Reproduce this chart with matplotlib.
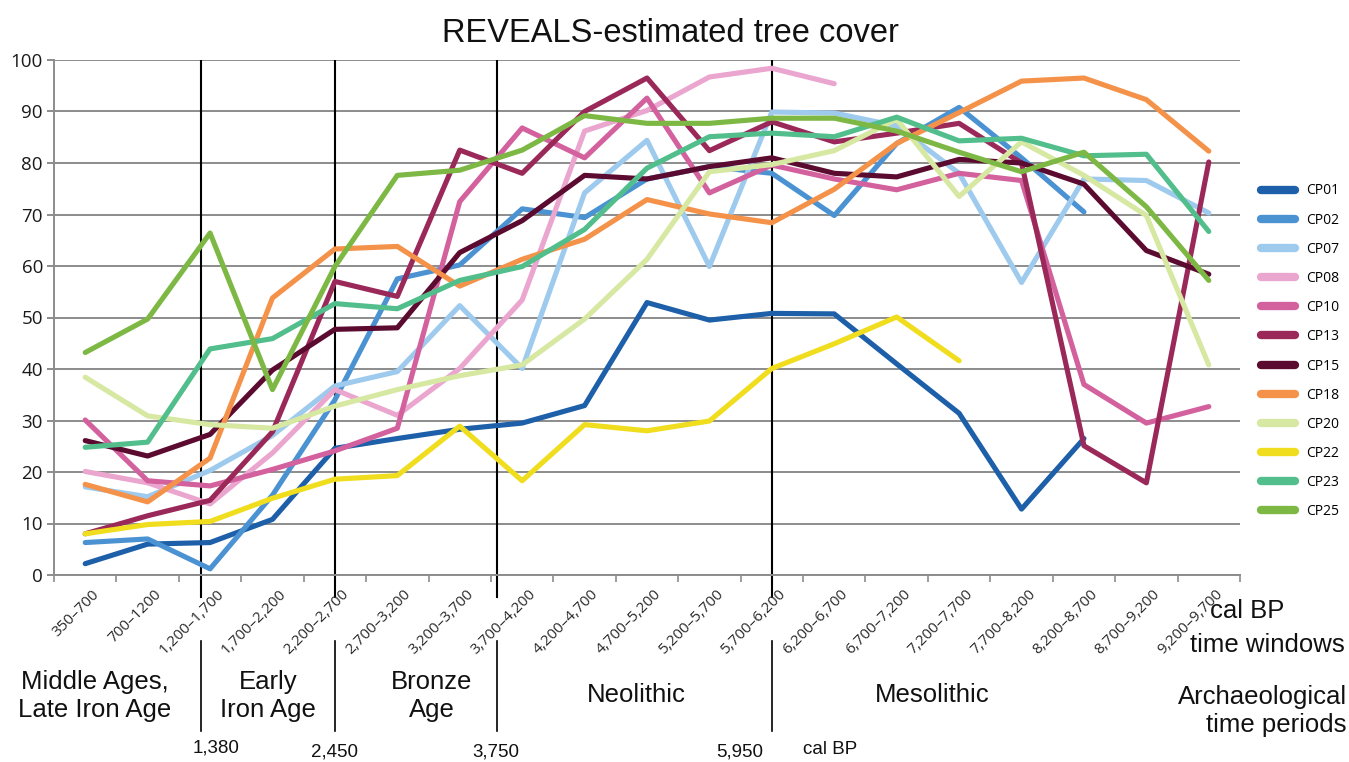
import matplotlib
matplotlib.use("Agg")
import matplotlib.pyplot as plt
import numpy as np
from matplotlib.transforms import blended_transform_factory

categories = ["350–700", "700–1200", "1,200–1,700", "1,700–2,200", "2,200–2,700",
              "2,700–3,200", "3,200–3,700", "3,700–4,200", "4,200–4,700", "4,700–5,200",
              "5,200–5,700", "5,700–6,200", "6,200–6,700", "6,700–7,200", "7,200–7,700",
              "7,700–8,200", "8,200–8,700", "8,700–9,200", "9,200–9,700"]
N = None
cp01 = [2.2, 6.0, 6.3, 10.8, 24.6, 26.5, 28.3, 29.5, 32.9, 52.9, 49.5, 50.8, 50.7, 41.0, 31.4, 12.8, 26.5, N, N]
cp02 = [6.3, 7.0, 1.2, 15.5, 34.0, 57.5, 60.2, 71.1, 69.4, 76.9, 79.3, 78.0, 69.8, 83.8, 90.8, 81.0, 70.5, N, N]
cp07 = [17.1, 15.2, 20.3, 27.1, 36.7, 39.5, 52.3, 40.1, 74.2, 84.4, 59.9, 89.9, 89.7, 87.2, 78.0, 56.8, 76.9, 76.6, 70.3]
cp08 = [20.1, 17.9, 13.8, 23.7, 36.0, 31.0, 40.1, 53.4, 86.2, 90.2, 96.7, 98.4, 95.4, N, N, N, N, N, N]
cp10 = [30.1, 18.3, 17.3, 20.5, 24.1, 28.5, 72.5, 86.8, 81.0, 92.6, 74.2, 79.6, 76.9, 74.8, 78.0, 76.6, 37.0, 29.5, 32.7]
cp13 = [8.0, 11.5, 14.5, 27.8, 57.0, 54.1, 82.5, 78.0, 90.0, 96.5, 82.4, 88.0, 84.1, 85.8, 87.7, 80.0, 25.1, 17.9, 80.2]
cp15 = [26.1, 23.1, 27.3, 39.8, 47.7, 48.0, 62.6, 68.8, 77.6, 76.9, 79.3, 81.0, 78.0, 77.3, 80.7, 80.0, 75.9, 63.0, 58.4]
cp18 = [17.6, 14.2, 22.7, 53.8, 63.3, 63.8, 56.1, 61.3, 65.2, 72.9, 70.1, 68.4, 74.9, 83.8, 89.8, 95.9, 96.5, 92.3, 82.3]
cp20 = [38.4, 30.9, 29.2, 28.5, 32.8, 36.0, 38.7, 40.8, 49.7, 61.3, 78.3, 79.7, 82.4, 88.5, 73.5, 84.1, 77.6, 69.8, 40.8]
cp22 = [8.0, 9.8, 10.4, 14.9, 18.6, 19.3, 28.9, 18.3, 29.2, 28.0, 29.9, 40.1, 44.9, 50.1, 41.6, N, N, N, N]
cp23 = [24.8, 25.8, 43.9, 45.9, 52.7, 51.7, 57.2, 59.9, 67.1, 79.0, 85.1, 85.8, 85.1, 88.9, 84.3, 84.8, 81.4, 81.7, 66.7]
cp25 = [43.2, 49.7, 66.4, 36.0, 59.9, 77.6, 78.6, 82.5, 89.2, 87.7, 87.7, 88.7, 88.7, 86.2, 82.1, 78.3, 82.1, 71.5, 57.2]

series_names = ["CP01", "CP02", "CP07", "CP08", "CP10", "CP13", "CP15", "CP18", "CP20", "CP22", "CP23", "CP25"]
series_values = [cp01, cp02, cp07, cp08, cp10, cp13, cp15, cp18, cp20, cp22, cp23, cp25]
colors = ["#1d5fa8", "#4b92d3", "#9dcaed", "#eaa6cf", "#d3619d", "#9a2858", "#5b0b2f",
          "#f4924a", "#d6e8a2", "#f0dd1e", "#52be8c", "#7db844"]

period_bounds_bp = [1380, 2450, 3750, 5950]
period_names = ["Middle Ages,\nLate Iron Age", "Early\nIron Age", "Bronze\nAge", "Neolithic", "Mesolithic"]
yticks = [0, 10, 20, 30, 40, 50, 60, 70, 80, 90, 100]

W, H = 1349, 762
fig = plt.figure(figsize=(W / 100, H / 100), dpi=100)
fig.patch.set_facecolor("white")

def fx(px):
    return px / W

def fy(py):
    return 1 - py / H

ax = fig.add_axes([fx(54), fy(575), fx(1240) - fx(54), fy(60) - fy(575)])
x = np.arange(len(categories))

grey = "#8c8c8c"
ax.set_xlim(-0.5, len(categories) - 0.5)
ax.set_ylim(0, 100)
ax.set_yticks(yticks)
ax.set_yticklabels([str(v) for v in yticks], fontsize=13.5, family="Open Sans", color="#1a1a1a")
ax.yaxis.grid(True, color=grey, lw=1.4)
ax.set_axisbelow(True)
for s in ["right", "top"]:
    ax.spines[s].set_visible(False)
for s in ["bottom", "left"]:
    ax.spines[s].set_color(grey)
    ax.spines[s].set_linewidth(1.4)
ax.tick_params(axis="y", length=5, color=grey, width=1.4, pad=3)
ax.set_xticks(np.arange(-0.5, len(categories) - 0.4, 1.0))
ax.set_xticklabels([])
ax.tick_params(axis="x", length=5, color=grey, width=1.2)
for i, c in enumerate(categories):
    ax.text(i + 0.1, -2.3, c, rotation=45, ha="right", va="top", rotation_mode="anchor",
            fontsize=11, family="Open Sans", color="#2a2a2a")

handles = []
for name, vals, col in zip(series_names, series_values, colors):
    y = np.array([np.nan if v is None else v for v in vals], dtype=float)
    ln, = ax.plot(x, y, color=col, lw=3.7, solid_capstyle="round", solid_joinstyle="round", label=name)
    handles.append(ln)

# period boundary lines
pos = [(bp - 450) / 500 for bp in period_bounds_bp]
trans = blended_transform_factory(ax.transData, fig.transFigure)
for p in pos:
    ax.plot([p, p], [0, 100], color="black", lw=1.5, zorder=1)
    ax.plot([p, p], [fy(575), fy(597)], color="black", lw=1.5, transform=trans, clip_on=False)
    ax.plot([p, p], [fy(641), fy(731)], color="black", lw=1.2, transform=trans, clip_on=False)

leg = fig.legend(handles=handles, loc="upper left", bbox_to_anchor=(fx(1248), fy(171)),
                 frameon=False, handlelength=2.5, handletextpad=0.8, labelspacing=1.02,
                 prop={"family": "Open Sans", "size": 10})
for lh in leg.get_lines():
    lh.set_linewidth(6)
    lh.set_solid_capstyle("round")

fig.text(fx(670), fy(34), "REVEALS-estimated tree cover", ha="center", va="center",
         fontsize=23.5, family="Liberation Sans", color="#111111")

fam = "Liberation Sans"
tkw = dict(ha="center", va="center", fontsize=18.5, family=fam, color="#111111", linespacing=1.2)
fig.text(fx(95), fy(696), period_names[0], **tkw)
fig.text(fx(268), fy(696), period_names[1], **tkw)
fig.text(fx(432), fy(696), period_names[2], **tkw)
fig.text(fx(636), fy(695), period_names[3], **tkw)
fig.text(fx(932), fy(695), period_names[4], **tkw)
fig.text(fx(1347), fy(711), "Archaeological\ntime periods", ha="right", va="center",
         fontsize=18.5, family=fam, color="#111111", linespacing=1.2)
fig.text(fx(1247), fy(611), "cal BP", ha="center", va="center", fontsize=18.5, family=fam, color="#111111")
fig.text(fx(1345), fy(645), "time windows", ha="right", va="center", fontsize=18.5, family=fam, color="#111111")

bkw = dict(ha="center", va="center", fontsize=13.5, family=fam, color="#111111")
fig.text(fx(216), fy(748), "1,380", **bkw)
fig.text(fx(334), fy(752), "2,450", **bkw)
fig.text(fx(496), fy(752), "3,750", **bkw)
fig.text(fx(740), fy(752), "5,950", **bkw)
fig.text(fx(830), fy(749), "cal BP", **bkw)

fig.savefig("out.png", dpi=100, facecolor="white")
